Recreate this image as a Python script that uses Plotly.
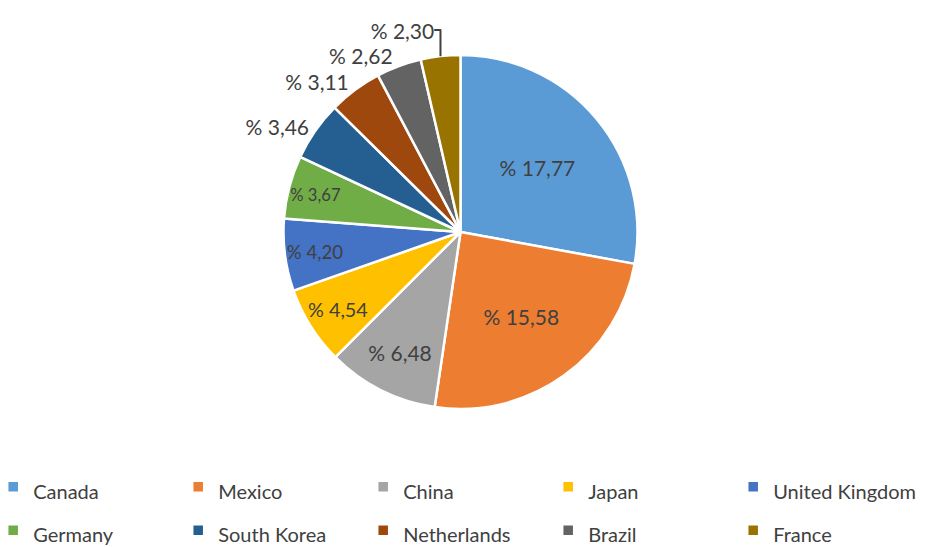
import plotly.graph_objects as go

countries = ["Canada", "Mexico", "China", "Japan", "United Kingdom",
             "Germany", "South Korea", "Netherlands", "Brazil", "France"]
shares = [17.77, 15.58, 6.48, 4.54, 4.20, 3.67, 3.46, 3.11, 2.62, 2.30]
colors = ["#5B9BD5", "#ED7D31", "#A5A5A5", "#FFC000", "#4472C4",
          "#70AD47", "#255E91", "#9E480E", "#636363", "#997300"]
label_pos = ["inside"] * 6 + ["outside"] * 4

texts = ["% " + f"{v:.2f}".replace(".", ",") for v in shares]
legend_labels = [f'<span style="font-size:20px">{c}</span>' for c in countries]

W, H = 925, 547
cx, cy, r = 452.5, 224, 177
FONT = "Lato"
TXT = "#404040"

fig = go.Figure(go.Pie(
    labels=legend_labels,
    values=shares,
    text=texts,
    textinfo="text",
    textposition=label_pos,
    insidetextorientation="horizontal",
    sort=False,
    direction="clockwise",
    rotation=0,
    marker=dict(colors=colors, line=dict(color="white", width=2.5)),
    textfont=dict(family=FONT, size=21, color=TXT),
    outsidetextfont=dict(family=FONT, size=21, color=TXT),
    insidetextfont=dict(family=FONT, size=21, color=TXT),
    domain=dict(x=[(cx - r) / W, (cx + r) / W], y=[1 - (cy + r) / H, 1 - (cy - r) / H]),
    hoverinfo="label+text",
))

fig.update_layout(
    width=W, height=H,
    margin=dict(l=0, r=0, t=0, b=0, autoexpand=False),
    paper_bgcolor="white",
    plot_bgcolor="white",
    font=dict(family=FONT, color=TXT),
    showlegend=True,
    legend=dict(
        orientation="h",
        x=-0.016, xanchor="left",
        y=-0.004, yanchor="bottom",
        font=dict(family=FONT, size=31, color=TXT),
        entrywidth=140, entrywidthmode="pixels",
        itemwidth=30,
    ),
)

fig.write_html("out.html")
